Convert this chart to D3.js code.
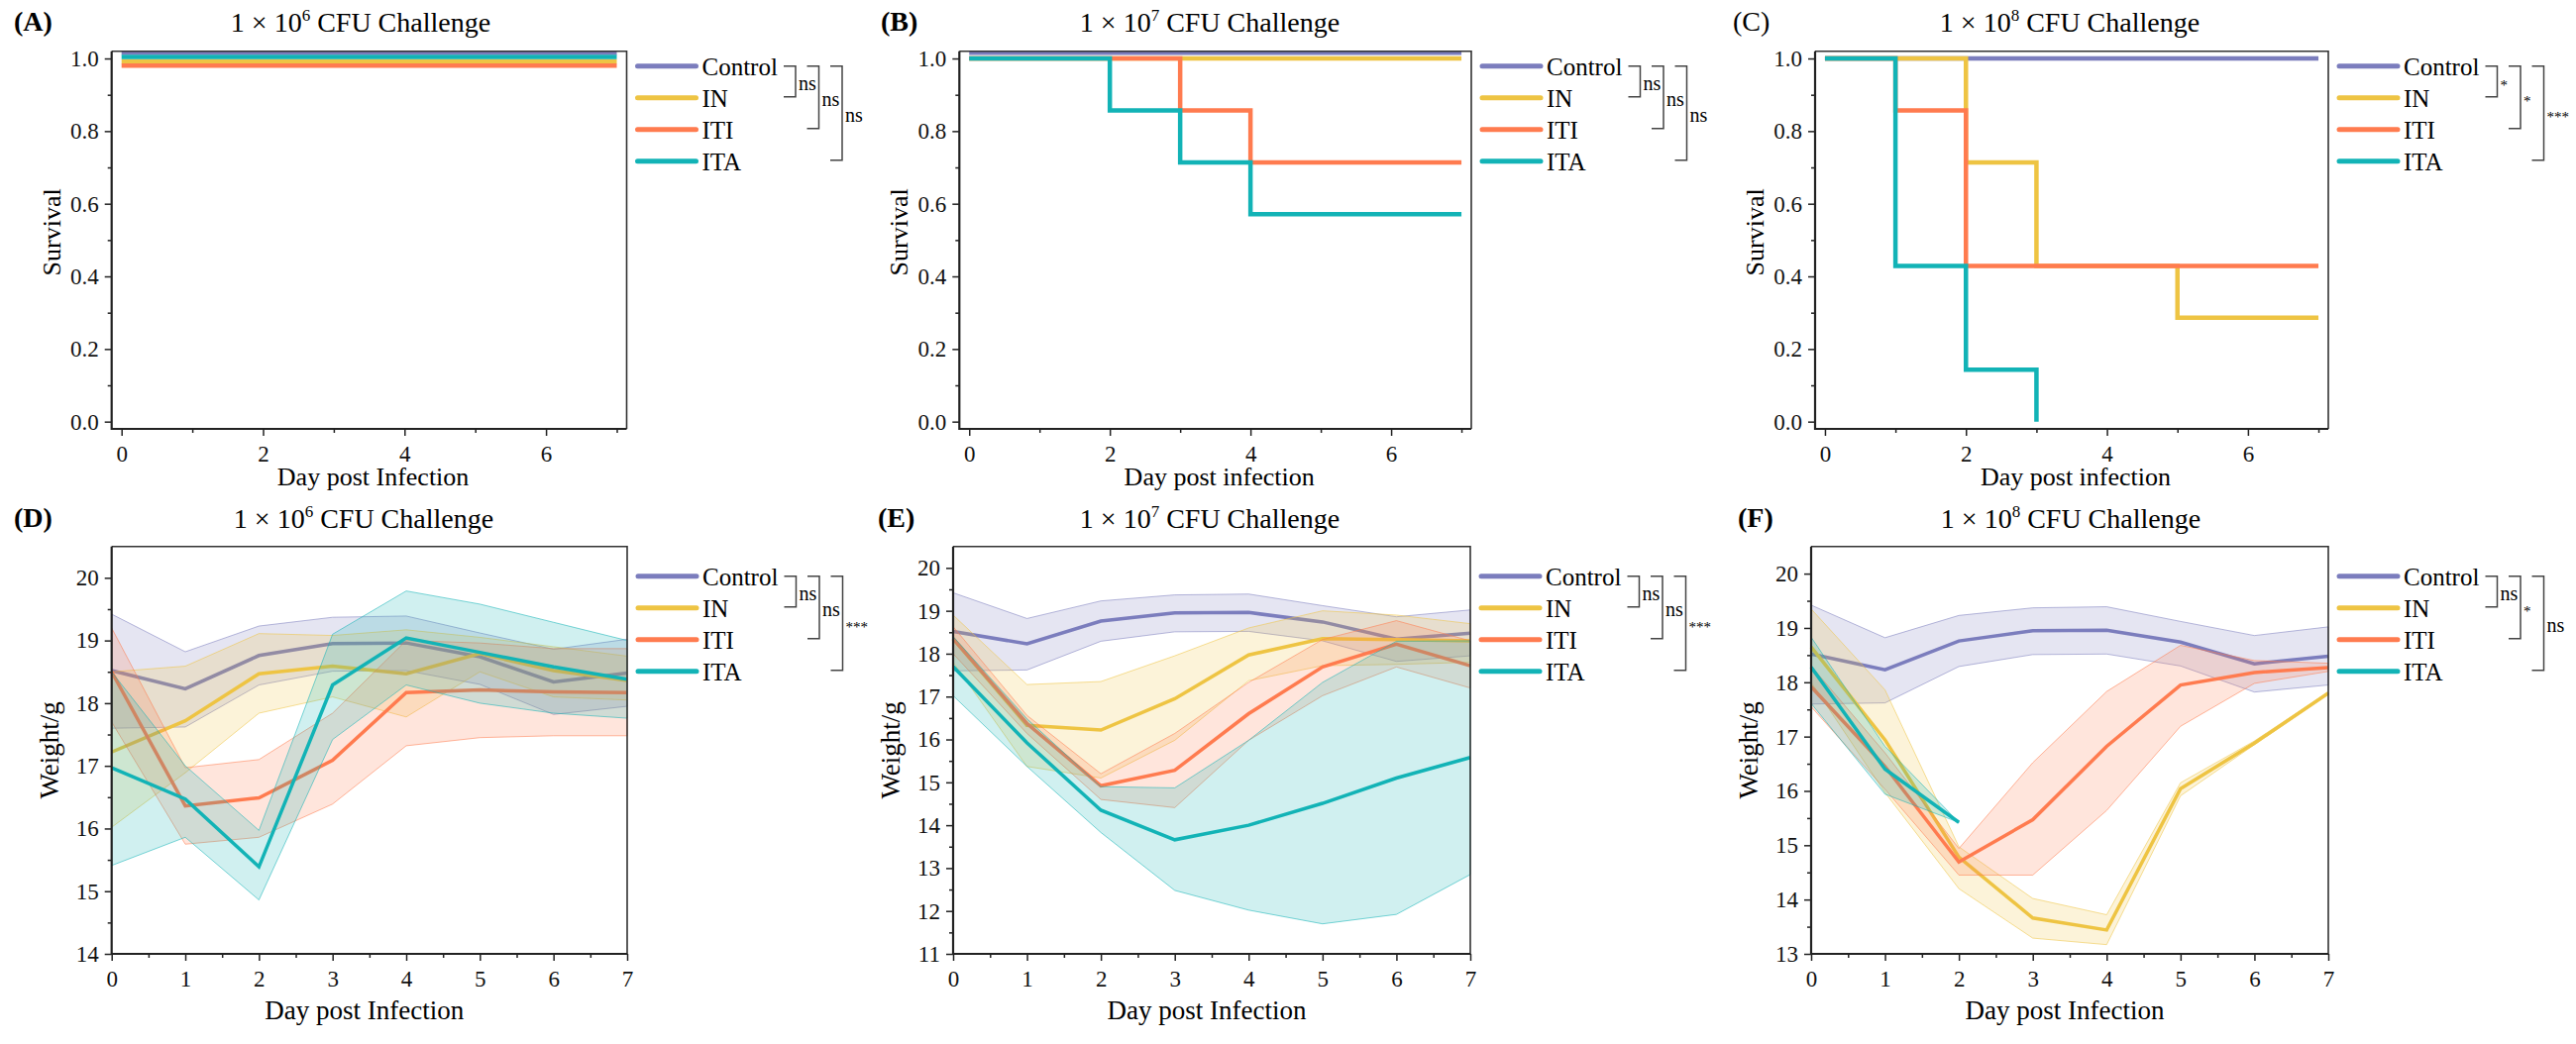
<!DOCTYPE html>
<html>
<head>
<meta charset="utf-8">
<script src="https://cdn.jsdelivr.net/npm/d3@7"></script>
<style>
  body { margin: 0; background: #fff; }
  svg, svg text { font-family: "Liberation Serif", "Times New Roman", serif; }
</style>
</head>
<body>
<svg id="fig" width="2600" height="1054"></svg>
<script>
// ---------- data ----------
const groups = ["Control", "IN", "ITI", "ITA"];
const days = [0, 1, 2, 3, 4, 5, 6, 7];
const doses = ["6", "7", "8"];

// survival curves, step points [day, fraction surviving], order = groups
const survivalA = [
    [[0, 1.016], [7, 1.016]],
    [[0, 0.992], [7, 0.992]],
    [[0, 0.980], [7, 0.980]],
    [[0, 1.004], [7, 1.004]]
];
const survivalB = [
    [[0, 1.016], [7, 1.016]],
    [[0, 1], [7, 1]],
    [[0, 1], [3, 0.857], [4, 0.714], [7, 0.714]],
    [[0, 1], [2, 0.857], [3, 0.714], [4, 0.571], [7, 0.571]]
];
const survivalC = [
    [[0, 1], [7, 1]],
    [[0, 1], [2, 0.714], [3, 0.429], [5, 0.286], [7, 0.286]],
    [[0, 1], [1, 0.857], [2, 0.429], [7, 0.429]],
    [[0, 1], [1, 0.429], [2, 0.143], [3, 0]]
];

// body weight (g), mean and band limits per day
const controlMean = [18.52, 18.23, 18.76, 18.95, 18.96, 18.74, 18.34, 18.48];
const controlLo   = [17.60, 17.62, 18.29, 18.51, 18.52, 18.30, 17.82, 17.95];
const controlHi   = [19.42, 18.82, 19.23, 19.37, 19.39, 19.12, 18.86, 19.02];

const weightD_mean = [controlMean,
    [17.22, 17.72, 18.47, 18.59, 18.47, 18.79, 18.52, 18.36],
    [18.50, 16.36, 16.49, 17.09, 18.17, 18.21, 18.18, 18.17],
    [16.97, 16.47, 15.39, 18.29, 19.04, 18.81, 18.58, 18.38]];
const weightD_lo = [controlLo,
    [16.02, 16.89, 17.84, 18.10, 17.78, 18.50, 18.10, 18.05],
    [17.70, 15.75, 15.86, 16.39, 17.32, 17.45, 17.48, 17.48],
    [15.41, 15.86, 14.86, 17.42, 18.29, 18.00, 17.84, 17.76]];
const weightD_hi = [controlHi,
    [18.50, 18.59, 19.11, 19.08, 19.17, 19.05, 18.90, 18.75],
    [19.20, 16.97, 17.10, 17.84, 19.00, 18.96, 18.87, 18.87],
    [18.50, 17.00, 15.97, 19.10, 19.79, 19.58, 19.29, 19.00]];

const weightE_mean = [controlMean,
    [18.35, 16.33, 16.22, 16.95, 17.97, 18.35, 18.33, 18.30],
    [18.35, 16.37, 14.92, 15.28, 16.60, 17.69, 18.22, 17.72],
    [17.70, 15.92, 14.35, 13.66, 14.00, 14.51, 15.10, 15.58]];
const weightE_lo = [controlLo,
    [17.80, 15.37, 15.10, 15.98, 17.37, 17.72, 17.75, 17.80],
    [18.00, 16.14, 14.60, 14.41, 15.98, 17.02, 17.69, 17.20],
    [17.02, 15.37, 13.83, 12.48, 12.02, 11.70, 11.92, 12.85]];
const weightE_hi = [controlHi,
    [18.90, 17.28, 17.35, 17.95, 18.60, 19.00, 18.90, 18.70],
    [18.63, 16.56, 15.20, 16.14, 17.33, 18.33, 18.77, 18.30],
    [18.40, 16.48, 14.90, 14.87, 15.98, 17.33, 18.29, 18.30]];

const weightF_mean = [controlMean,
    [18.65, 16.94, 14.78, 13.66, 13.44, 16.04, 16.88, 17.80],
    [17.92, 16.45, 14.69, 15.47, 16.82, 17.95, 18.18, 18.27],
    [18.28, 16.40, 15.42]];
const weightF_lo = [controlLo,
    [18.00, 15.97, 14.20, 13.29, 13.17, 15.91, 16.85, 17.78],
    [17.55, 16.03, 14.45, 14.45, 15.64, 17.19, 17.98, 18.20],
    [17.61, 15.94, 15.42]];
const weightF_hi = [controlHi,
    [19.35, 17.86, 14.97, 14.02, 13.72, 16.15, 16.92, 17.82],
    [18.30, 16.70, 14.94, 16.52, 17.83, 18.68, 18.40, 18.35],
    [18.83, 16.82, 15.42]];

// significance vs Control (IN, ITI, ITA)
const statsA = ["ns", "ns", "ns"];
const statsB = ["ns", "ns", "ns"];
const statsC = ["*", "*", "***"];
const statsD = ["ns", "ns", "***"];
const statsE = ["ns", "ns", "***"];
const statsF = ["ns", "*", "ns"];

const survivalTicks = [0, 0.2, 0.4, 0.6, 0.8, 1.0];

// ---------- style ----------
const colors = ["#7B7DBD", "#EEC443", "#FF7B4F", "#12B3B6"];
const serif = '"Liberation Serif", "Times New Roman", serif';
const svg = d3.select("#fig");

const rowSurv = { top: 51.7, bottom: 433 };
const rowWeight = { top: 551.7, bottom: 963 };

function axisStyle(g, size) {
    g.attr("font-family", serif).attr("font-size", size).attr("color", "#222");
    g.select(".domain").remove();
    g.selectAll(".tick line").attr("stroke-width", 1.5);
    g.selectAll(".tick text").attr("fill", "#111");
}

function frame(g, left, right, top, bottom) {
    g.append("path")
        .attr("d", `M${left},${top}H${right}V${bottom}`)
        .attr("fill", "none").attr("stroke", "#333").attr("stroke-width", 1.6);
    g.append("path")
        .attr("d", `M${left},${top}V${bottom}H${right}`)
        .attr("fill", "none").attr("stroke", "#222").attr("stroke-width", 2.2);
}

function header(g, p, row) {
    const base = row.top - (row === rowSurv ? 20.7 : 19.7);
    g.append("text")
        .attr("x", p.letterX).attr("y", base)
        .attr("font-size", 28).attr("font-weight", p.bold ? "bold" : "normal")
        .text(p.letter);
    const t = g.append("text")
        .attr("x", p.titleX).attr("y", base + 1)
        .attr("text-anchor", "middle").attr("font-size", 28);
    t.append("tspan").text("1 × 10");
    t.append("tspan").attr("font-size", 17).attr("dy", -11).text(p.dose);
    t.append("tspan").attr("dy", 11).text(" CFU Challenge");
}

function legend(g, right, firstY, stats) {
    const step = 32;
    const textX = right + 76;
    groups.forEach((name, i) => {
        const yy = firstY + i * step;
        g.append("line")
            .attr("x1", right + 11).attr("x2", right + 70)
            .attr("y1", yy).attr("y2", yy)
            .attr("stroke", colors[i]).attr("stroke-width", 5)
            .attr("stroke-linecap", "round");
        g.append("text")
            .attr("x", textX).attr("y", yy + 9)
            .attr("font-size", 25).text(name);
    });
    stats.forEach((s, k) => {
        const vx = textX + 94.5 + 23.5 * k;
        const y0 = firstY, y1 = firstY + (k + 1) * step - 1;
        g.append("path")
            .attr("d", `M${vx - 12},${y0}H${vx}V${y1}H${vx - 12}`)
            .attr("fill", "none").attr("stroke", "#444").attr("stroke-width", 1.5);
        const star = s.indexOf("*") >= 0;
        g.append("text")
            .attr("x", vx + 3).attr("y", (y0 + y1) / 2 + 9)
            .attr("font-size", star ? 15 : 20).text(s);
    });
}

function survivalPanel(p) {
    const g = svg.append("g");
    const x = d3.scaleLinear().domain([-0.14, 7.14]).range([p.left, p.right]);
    const y = d3.scaleLinear().domain([-0.02, 1.02]).range([rowSurv.bottom, rowSurv.top]);

    g.append("g").attr("transform", `translate(0,${rowSurv.bottom})`)
        .call(d3.axisBottom(x).tickValues([1, 3, 5, 7]).tickSize(4).tickFormat(""))
        .call(a => axisStyle(a, 22));
    g.append("g").attr("transform", `translate(0,${rowSurv.bottom})`)
        .call(d3.axisBottom(x).tickValues([0, 2, 4, 6]).tickSize(7).tickPadding(10).tickFormat(d3.format("d")))
        .call(a => axisStyle(a, 23));
    g.append("g").attr("transform", `translate(${p.left},0)`)
        .call(d3.axisLeft(y).tickValues([0.1, 0.3, 0.5, 0.7, 0.9]).tickSize(4).tickFormat(""))
        .call(a => axisStyle(a, 22));
    g.append("g").attr("transform", `translate(${p.left},0)`)
        .call(d3.axisLeft(y).tickValues(survivalTicks).tickSize(7).tickPadding(6).tickFormat(d3.format(".1f")))
        .call(a => axisStyle(a, 23));

    const line = d3.line().x(d => x(d[0])).y(d => y(d[1])).curve(d3.curveStepAfter);
    g.selectAll("path.surv")
        .data(p.data)
        .join("path")
        .attr("class", "surv")
        .attr("d", line)
        .attr("fill", "none")
        .attr("stroke", (d, i) => colors[i])
        .attr("stroke-width", 4.5);

    frame(g, p.left, p.right, rowSurv.top, rowSurv.bottom);

    g.append("text")
        .attr("transform", `translate(${p.left - 52},${(rowSurv.top + rowSurv.bottom) / 2 - 8}) rotate(-90)`)
        .attr("text-anchor", "middle").attr("font-size", 26).text("Survival");
    g.append("text")
        .attr("x", (p.left + p.right) / 2 + 4).attr("y", rowSurv.bottom + 57)
        .attr("text-anchor", "middle").attr("font-size", 26).text(p.xLabel);

    header(g, p, rowSurv);
    legend(g, p.right, rowSurv.top + 15, p.stats);
}

function weightPanel(p) {
    const g = svg.append("g");
    const x = d3.scaleLinear().domain([0, 7]).range([p.left, p.right]);
    const y = d3.scaleLinear().domain([p.yMin, 20.5]).range([rowWeight.bottom, rowWeight.top]);

    const majorY = d3.range(p.yMin, 20.01, 1);
    const minorY = d3.range(p.yMin + 0.5, 20.5, 1);

    g.append("g").attr("transform", `translate(0,${rowWeight.bottom})`)
        .call(d3.axisBottom(x).tickValues(days.slice(0, 7).map(d => d + 0.5)).tickSize(4).tickFormat(""))
        .call(a => axisStyle(a, 22));
    g.append("g").attr("transform", `translate(0,${rowWeight.bottom})`)
        .call(d3.axisBottom(x).tickValues(days).tickSize(7).tickPadding(10).tickFormat(d3.format("d")))
        .call(a => axisStyle(a, 23));
    g.append("g").attr("transform", `translate(${p.left},0)`)
        .call(d3.axisLeft(y).tickValues(minorY).tickSize(4).tickFormat(""))
        .call(a => axisStyle(a, 22));
    g.append("g").attr("transform", `translate(${p.left},0)`)
        .call(d3.axisLeft(y).tickValues(majorY).tickSize(7).tickPadding(6).tickFormat(d3.format("d")))
        .call(a => axisStyle(a, 23));

    const area = d3.area()
        .x((d, i) => x(days[i]))
        .y0(d => y(d[0]))
        .y1(d => y(d[1]));
    const line = d3.line()
        .x((d, i) => x(days[i]))
        .y(d => y(d));

    groups.forEach((name, i) => {
        const band = p.lo[i].map((v, j) => [v, p.hi[i][j]]);
        g.append("path")
            .attr("d", area(band))
            .attr("fill", colors[i]).attr("fill-opacity", 0.2)
            .attr("stroke", colors[i]).attr("stroke-opacity", 0.55).attr("stroke-width", 1);
        g.append("path")
            .attr("d", line(p.mean[i]))
            .attr("fill", "none")
            .attr("stroke", colors[i]).attr("stroke-width", 3.5);
    });

    frame(g, p.left, p.right, rowWeight.top, rowWeight.bottom);

    g.append("text")
        .attr("transform", `translate(${p.left - 54},${(rowWeight.top + rowWeight.bottom) / 2}) rotate(-90)`)
        .attr("text-anchor", "middle").attr("font-size", 27).text("Weight/g");
    g.append("text")
        .attr("x", (p.left + p.right) / 2 - 5).attr("y", rowWeight.bottom + 66)
        .attr("text-anchor", "middle").attr("font-size", 27).text("Day post Infection");

    header(g, p, rowWeight);
    legend(g, p.right, rowWeight.top + 30, p.stats);
}

survivalPanel({ left: 112.7, right: 632.5, data: survivalA, stats: statsA, dose: doses[0],
    letter: "(A)", bold: true, letterX: 14, titleX: 364, xLabel: "Day post Infection" });
survivalPanel({ left: 968.3, right: 1485, data: survivalB, stats: statsB, dose: doses[1],
    letter: "(B)", bold: true, letterX: 889, titleX: 1221, xLabel: "Day post infection" });
survivalPanel({ left: 1832, right: 2350, data: survivalC, stats: statsC, dose: doses[2],
    letter: "(C)", bold: false, letterX: 1749, titleX: 2089, xLabel: "Day post infection" });

weightPanel({ left: 112.7, right: 633, yMin: 14, mean: weightD_mean, lo: weightD_lo, hi: weightD_hi,
    stats: statsD, dose: doses[0], letter: "(D)", bold: true, letterX: 14, titleX: 367 });
weightPanel({ left: 962, right: 1484, yMin: 11, mean: weightE_mean, lo: weightE_lo, hi: weightE_hi,
    stats: statsE, dose: doses[1], letter: "(E)", bold: true, letterX: 886, titleX: 1221 });
weightPanel({ left: 1828, right: 2350, yMin: 13, mean: weightF_mean, lo: weightF_lo, hi: weightF_hi,
    stats: statsF, dose: doses[2], letter: "(F)", bold: true, letterX: 1754, titleX: 2090 });
</script>
</body>
</html>
